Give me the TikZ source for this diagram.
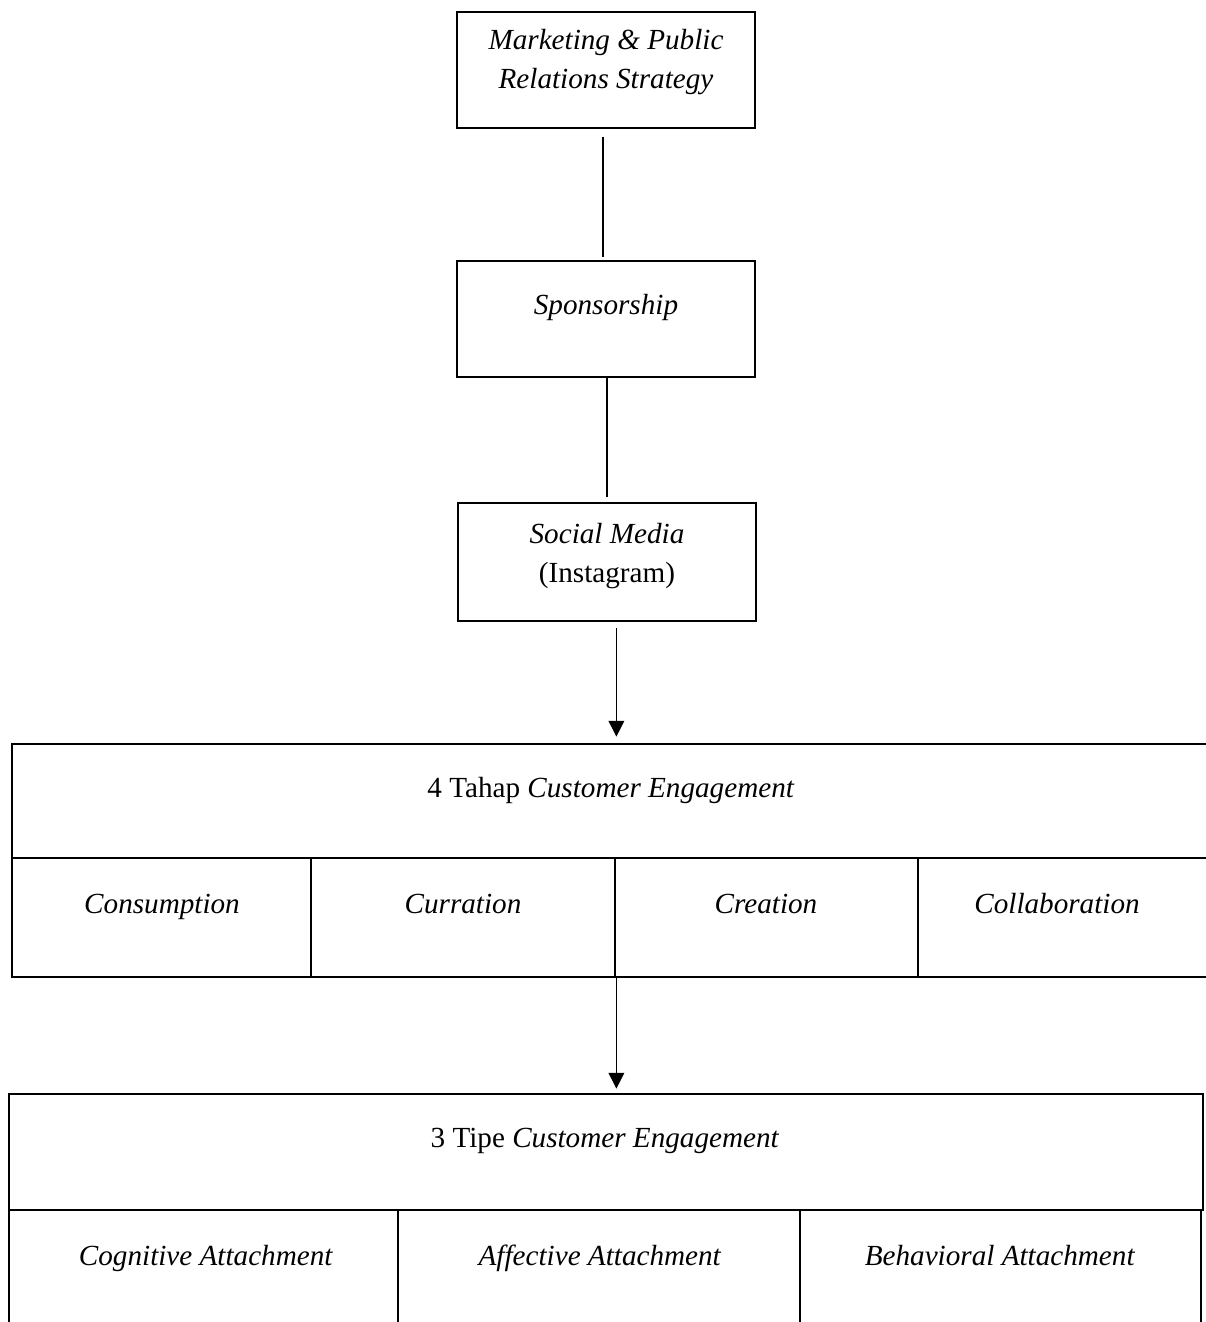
\documentclass[tikz,border=0pt]{standalone}
\usepackage{fontspec}
\setmainfont{Liberation Serif}
\usetikzlibrary{arrows.meta}

\def\unit{0.02cm}

\tikzset{
  box/.style={draw, line width=1.6pt, rectangle, inner sep=0pt},
  txt/.style={align=center, inner sep=0pt, font=\fontsize{16.6}{22}\selectfont},
  cell/.style={txt, text height=11pt, text depth=0pt},
  link/.style={line width=0.7pt},
  flow/.style={line width=0.7pt, -{Triangle[width=9pt,length=9pt]}}
}

\begin{document}
\begin{tikzpicture}[x=\unit, y=-\unit]
      \useasboundingbox (0,0) rectangle (1206,1322);
      % upper chain
      \node[box, minimum width=298*\unit, minimum height=116*\unit] (strategy) at (606, 70) {};
      \node[txt] (strategy-t) at (606, 62) {\textit{Marketing \& Public}\\\textit{Relations Strategy}};
      \node[box, minimum width=298*\unit, minimum height=116*\unit] (sponsor) at (606, 319) {};
      \node[cell] (sponsor-t) at (606, 305) {\textit{Sponsorship}};
      \node[box, minimum width=298*\unit, minimum height=118*\unit] (social) at (607, 562) {};
      \node[txt] (social-t) at (607, 556) {\textit{Social Media}\\(Instagram)};
      % 4 tahap
      \node[box, minimum width=1218*\unit, minimum height=114*\unit] (tahap) at (621, 801) {};
      \node[cell] (tahap-t) at (611, 788) {4 Tahap \textit{Customer Engagement}};
      \node[box, minimum width=299*\unit, minimum height=119*\unit] (consumption) at (161.5, 917.5) {};
      \node[box, minimum width=304*\unit, minimum height=119*\unit] (curration) at (463, 917.5) {};
      \node[box, minimum width=303*\unit, minimum height=119*\unit] (creation) at (766.5, 917.5) {};
      \node[box, minimum width=312*\unit, minimum height=119*\unit] (collab) at (1074, 917.5) {};
      \node[cell] (consumption-t) at (162, 904) {\textit{Consumption}};
      \node[cell] (curration-t) at (463, 904) {\textit{Curration}};
      \node[cell] (creation-t) at (766, 904) {\textit{Creation}};
      \node[cell] (collab-t) at (1057, 904) {\textit{Collaboration}};
      % 3 tipe
      \node[box, minimum width=1194*\unit, minimum height=116*\unit] (tipe) at (606, 1152) {};
      \node[cell] (tipe-t) at (605, 1138) {3 Tipe \textit{Customer Engagement}};
      \node[box, minimum width=389*\unit, minimum height=130*\unit] (cognitive) at (203.5, 1275) {};
      \node[box, minimum width=402*\unit, minimum height=130*\unit] (affective) at (599, 1275) {};
      \node[box, minimum width=401*\unit, minimum height=130*\unit] (behavioral) at (1000.5, 1275) {};
      \node[cell] (cognitive-t) at (206, 1256) {\textit{Cognitive Attachment}};
      \node[cell] (affective-t) at (600, 1256) {\textit{Affective Attachment}};
      \node[cell] (behavioral-t) at (1000, 1256) {\textit{Behavioral Attachment}};
      % connectors
      \draw[link, shorten <=8*\unit, shorten >=3*\unit] ([xshift=-3*\unit]strategy.south) -- ([xshift=-3*\unit]sponsor.north);
      \draw[link, shorten >=5*\unit] (sponsor.south -| social.north) -- (social.north);
      \draw[flow, shorten <=6*\unit, shorten >=6*\unit] (social.south -| curration.east) -- (tahap.north -| curration.east);
      \draw[flow, shorten >=4*\unit] (curration.south east) -- (tipe.north -| curration.east);
\end{tikzpicture}
\end{document}
